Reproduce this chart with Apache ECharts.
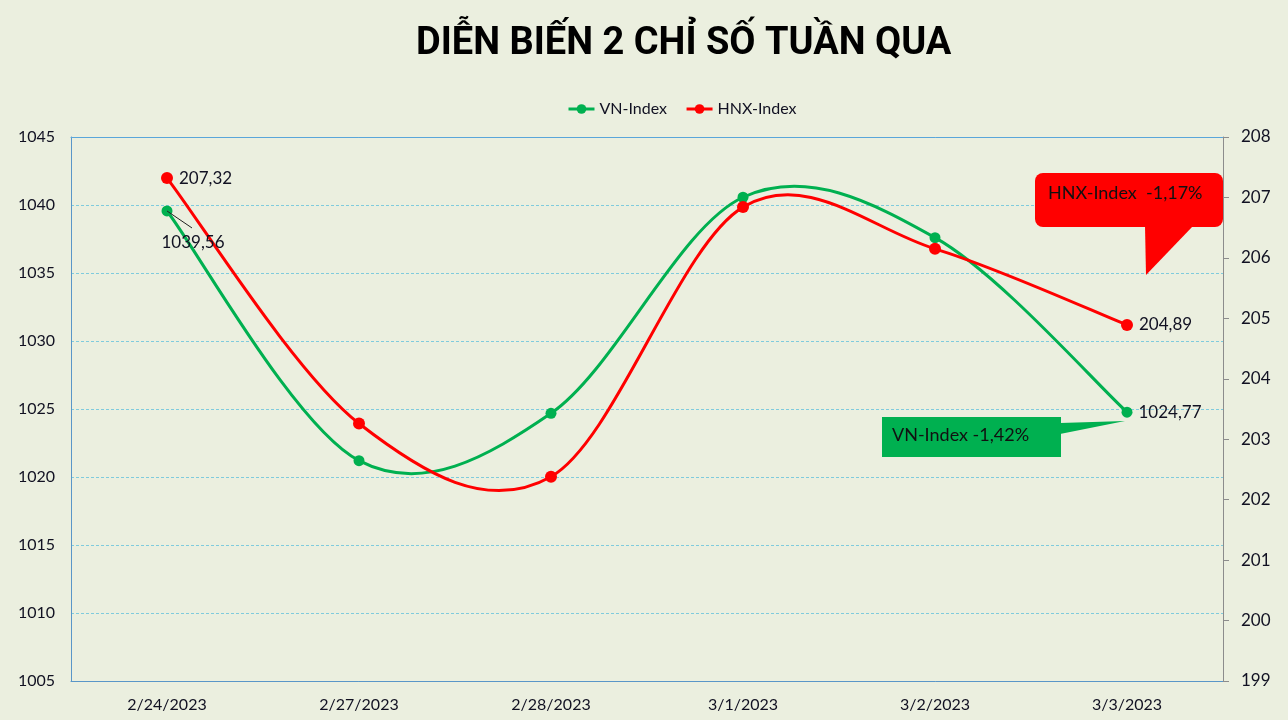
<!DOCTYPE html>
<html>
<head>
<meta charset="utf-8">
<script src="https://cdn.jsdelivr.net/npm/echarts@6/dist/echarts.min.js"></script>
<style>
html,body{margin:0;padding:0;background:#EBEFDF;}
#c{width:1288px;height:720px;}
</style>
</head>
<body>
<div id="c"></div>
<script>
var categories = ['2/24/2023','2/27/2023','2/28/2023','3/1/2023','3/2/2023','3/3/2023'];
var vnIndex = [1039.56, 1021.2, 1024.68, 1040.57, 1037.6, 1024.77];
var hnxIndex = [207.32, 203.26, 202.38, 206.84, 206.15, 204.89];
var leftTicks = {min:1005, max:1045, interval:5};
var rightTicks = {min:199, max:208, interval:1};
var title = 'DIỄN BIẾN 2 CHỈ SỐ TUẦN QUA';
var vnNote = 'VN-Index -1,42%';
var hnxNote = 'HNX-Index  -1,17%';

var FONT = 'Lato, "Noto Sans", sans-serif';
var TXT = '#111122';
var GREEN = '#00B050', RED = '#FF0000';
function fmt(v){ return v.toFixed(2).replace('.', ','); }
function lastIdx(arr){ return arr.length-1; }

// Excel-like smooth curve drawn through the axis scales (api.coord)
function smoothRenderer(values, color){
  return function(params, api){
    if(params.dataIndex !== 0) return null;
    var pts = values.map(function(v,i){ return api.coord([i, v]); });
    var n = pts.length;
    var d = 'M' + pts[0][0] + ' ' + pts[0][1];
    for(var i=0;i<n-1;i++){
      var p0 = pts[Math.max(i-1,0)], p1 = pts[i], p2 = pts[i+1], p3 = pts[Math.min(i+2,n-1)];
      var c1x = p1[0] + (p2[0]-p0[0])/6, c1y = p1[1] + (p2[1]-p0[1])/6;
      var c2x = p2[0] - (p3[0]-p1[0])/6, c2y = p2[1] - (p3[1]-p1[1])/6;
      d += ' C' + c1x + ' ' + c1y + ' ' + c2x + ' ' + c2y + ' ' + p2[0] + ' ' + p2[1];
    }
    return {type:'path', shape:{pathData:d}, style:{fill:null, stroke:color, lineWidth:3}, silent:true};
  };
}

var chart = echarts.init(document.getElementById('c'), null, {renderer:'canvas'});

var vnData = vnIndex.map(function(v,i){
  var d = {value:v};
  if(i===0){
    d.label = {show:true, position:'inside', offset:[26,32], formatter:function(p){return fmt(p.value);}};
  } else if(i===lastIdx(vnIndex)){
    d.label = {show:true, position:'right', distance:6, formatter:function(p){return fmt(p.value);}};
  }
  return d;
});
var hnxData = hnxIndex.map(function(v,i){
  var d = {value:v};
  if(i===0 || i===lastIdx(hnxIndex)){
    d.label = {show:true, position:'right', distance:6, formatter:function(p){return fmt(p.value);}};
  }
  return d;
});

var option = {
  backgroundColor:'#EBEFDF',
  animation:false,
  textStyle:{fontFamily:FONT},
  title:{
    text:title, left:411, top:20,
    textStyle:{fontFamily:'Roboto, "Noto Sans", sans-serif', fontWeight:'bold', fontSize:38, color:'#000'}
  },
  legend:{
    top:96, left:562, itemWidth:26, itemHeight:12, itemGap:18,
    textStyle:{fontFamily:FONT, fontSize:16, color:TXT},
    data:[
      {name:'VN-Index', lineStyle:{color:GREEN, width:3, opacity:1}, itemStyle:{color:GREEN}},
      {name:'HNX-Index', lineStyle:{color:RED, width:3, opacity:1}, itemStyle:{color:RED}}
    ]
  },
  grid:{left:71, right:65, top:137, bottom:39},
  xAxis:[{
    type:'category', data:categories, boundaryGap:true,
    axisLine:{lineStyle:{color:'#5A96C8', width:1}},
    axisTick:{show:false},
    axisLabel:{fontFamily:FONT, fontSize:16, color:TXT, margin:16}
  },{
    type:'category', data:categories, position:'top', boundaryGap:true,
    axisLine:{show:true, lineStyle:{color:'#5AA6DA', width:1}},
    axisTick:{show:false}, axisLabel:{show:false}, splitLine:{show:false}
  }],
  yAxis:[{
    type:'value', min:leftTicks.min, max:leftTicks.max, interval:leftTicks.interval,
    axisLine:{show:true, lineStyle:{color:'#5A96C8'}},
    axisTick:{show:false},
    axisLabel:{fontFamily:FONT, fontSize:16, color:TXT, margin:16, formatter:function(v){return String(v);}},
    splitLine:{show:true, lineStyle:{color:'#7FCBDD', type:[3,2], width:1}}
  },{
    type:'value', position:'right', min:rightTicks.min, max:rightTicks.max, interval:rightTicks.interval,
    axisLine:{show:true, lineStyle:{color:'#8C8C8C'}},
    axisTick:{show:true, inside:false, length:6, lineStyle:{color:'#8C8C8C'}},
    axisLabel:{fontFamily:FONT, fontSize:17, color:TXT, margin:18},
    splitLine:{show:false}
  }],
  series:[{
    name:'vn-curve', type:'custom', yAxisIndex:0, data:vnIndex,
    renderItem:smoothRenderer(vnIndex, GREEN), z:2, silent:true
  },{
    name:'hnx-curve', type:'custom', yAxisIndex:1, data:hnxIndex,
    renderItem:smoothRenderer(hnxIndex, RED), z:2, silent:true
  },{
    name:'VN-Index', type:'line', yAxisIndex:0, data:vnData,
    symbol:'circle', symbolSize:11,
    lineStyle:{color:GREEN, width:0, opacity:0}, itemStyle:{color:GREEN},
    label:{show:false, fontFamily:FONT, fontSize:17, color:TXT},
    z:3
  },{
    name:'HNX-Index', type:'line', yAxisIndex:1, data:hnxData,
    symbol:'circle', symbolSize:12,
    lineStyle:{color:RED, width:0, opacity:0}, itemStyle:{color:RED},
    label:{show:false, fontFamily:FONT, fontSize:17, color:TXT},
    z:4
  }],
  graphic:[
    // HNX callout
    {type:'polygon', shape:{points:[[1145,226],[1193,226],[1146,275]]}, style:{fill:RED}, z:10},
    {type:'rect', shape:{x:1035, y:173, width:188, height:54, r:8}, style:{fill:RED}, z:10},
    {type:'text', x:1048, y:193, style:{text:hnxNote, fill:'#111', font:'18px '+FONT, textVerticalAlign:'middle'}, z:11},
    // VN callout
    {type:'polygon', shape:{points:[[1060,423],[1125,421],[1060,434]]}, style:{fill:GREEN}, z:10},
    {type:'rect', shape:{x:882, y:417, width:179, height:40}, style:{fill:GREEN}, z:10},
    {type:'text', x:892, y:435, style:{text:vnNote, fill:'#111', font:'18px '+FONT, textVerticalAlign:'middle'}, z:11}
  ]
};
chart.setOption(option);

// leader line for the first VN-Index label, anchored to the data point
var p0 = chart.convertToPixel({seriesIndex:2}, [0, vnIndex[0]]);
chart.setOption({graphic:[{
  type:'line', id:'leader',
  shape:{x1:p0[0], y1:p0[1], x2:p0[0]+25, y2:p0[1]+17},
  style:{stroke:'#222', lineWidth:1}, z:5
}]});
</script>
</body>
</html>
